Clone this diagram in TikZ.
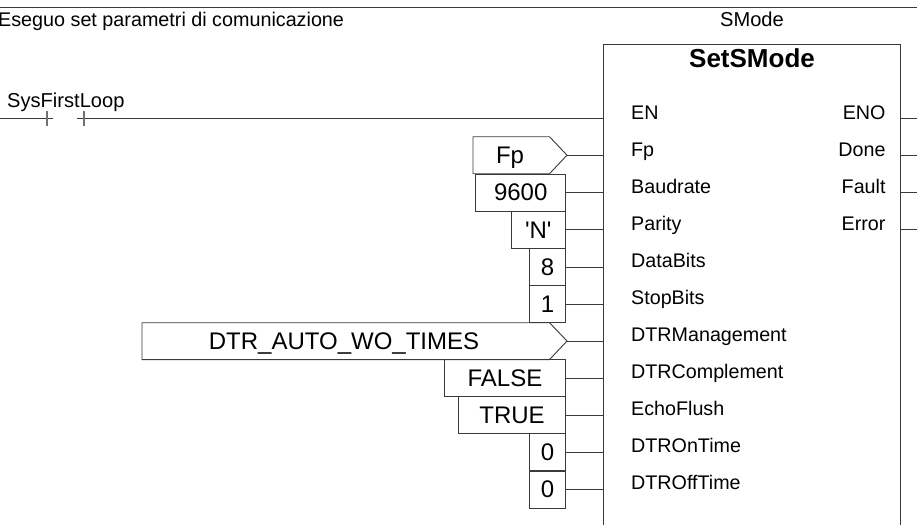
\documentclass[tikz,border=0pt]{standalone}
\usepackage{fontspec}
\setmainfont{Liberation Sans}
\newfontfamily\plainfam{Liberation Sans}
\definecolor{ln}{HTML}{3A3A3A}
\definecolor{tick}{HTML}{707070}
\newcommand{\fsz}[1]{\fontsize{#1}{#1}\selectfont}
\tikzset{
  wire/.style={draw=ln,line width=0.9pt},
  valbox/.style={draw=ln,line width=0.9pt,rectangle,inner sep=0pt,minimum height=37pt,text height=16.8pt,text depth=0pt,align=center,font=\fsz{24},text=black,anchor=east},
  valtxt/.style={inner sep=0pt,text height=16.8pt,text depth=0pt,font=\fsz{24},text=black},
  pinl/.style={inner sep=0pt,anchor=base west,font=\fsz{19.7},text=black},
  pinr/.style={inner sep=0pt,anchor=base east,font=\fsz{19.7},text=black},
  lbl/.style={inner sep=0pt,anchor=base west,font=\fsz{20.1},text=black},
}
\begin{document}
\begin{tikzpicture}[x=1pt,y=-1pt]
\useasboundingbox (0,0) rectangle (917,525);
\fill[white] (0,0) rectangle (917,525);
% rung header
\draw[wire] (0,7.5) -- (917,7.5);
\node[lbl,font=\fsz{19.75}] (title) at (-2,26) {Eseguo set parametri di comunicazione};
\node[lbl,anchor=base] (inst) at (752,26) {SMode};
% function block (runs off the bottom of the picture)
\draw[wire] (603.5,525) -- (603.5,44) -- (900,44) -- (900,525);
\node[inner sep=0pt,anchor=base,font=\fsz{26}\bfseries] (fbname) at (752,67.7) {SetSMode};
% pins: name / wire y / text baseline / text
\foreach \n/\y/\b/\t in {en/118/119/EN,fp/155.2/156/Fp,baud/192.5/193.1/Baudrate,par/229.7/230.1/Parity,data/267/267.1/DataBits,stop/304/304.1/StopBits,dtrm/341/341.2/DTRManagement,dtrc/378/378.2/DTRComplement,echo/415/415.2/EchoFlush,on/452.3/452.3/DTROnTime,off/489.5/489.3/DTROffTime}{
  \coordinate (p\n) at (603.5,\y);
  \node[pinl] (l\n) at (631,\b) {\t};
}
\foreach \n/\y/\b/\t in {eno/118/119/ENO,done/155.2/156/Done,fault/192.5/193.1/Fault,error/229.7/230.1/Error}{
  \coordinate (p\n) at (900,\y);
  \coordinate (q\n) at (917,\y);
  \node[pinr] (l\n) at (885.7,\b) {\t};
  \draw[wire] (p\n) -- (q\n);
}
% contact
\coordinate (rail) at (0,118);
\coordinate (cl) at (53,118);
\coordinate (cr) at (77,118);
\draw[wire] (rail) -- (cl);
\draw[wire] (cr) -- (pen);
\draw[draw=tick,line width=1.1pt] (47,111) -- (47,126);
\draw[draw=tick,line width=1.1pt] (84,111) -- (84,126);
\node[lbl] (contact) at (7,107) {SysFirstLoop};
% signal-shaped values
\draw[wire] (473,136.7) -- (549.5,136.7) -- (567,155.2) -- (549.5,173.7) -- (473,173.7) -- cycle;
\coordinate (fptip) at (567,155.2);
\node[valtxt] (vfp) at (510,155.2) {Fp};
\draw[wire] (fptip) -- (pfp);
\draw[wire] (142,322.7) -- (549.5,322.7) -- (567,341) -- (549.5,359.6) -- (142,359.6) -- cycle;
\coordinate (dtrtip) at (567,341);
\node[valtxt] (vdtr) at (344,341) {DTR\_AUTO\_WO\_TIMES};
\draw[wire] (dtrtip) -- (pdtrm);
% boxed values
\foreach \n/\y/\w/\t in {baud/192.5/89.7/9600,par/229.7/54.5/{\plainfam 'N'},data/267/36/8,stop/304/36/1,dtrc/378/121.3/FALSE,echo/415/107/TRUE,on/452.3/36/0,off/489.5/36/0}{
  \node[valbox,minimum width=\w pt] (v\n) at (566,\y) {\t};
  \draw[wire] (v\n.east) -- (p\n);
}
\end{tikzpicture}
\end{document}
